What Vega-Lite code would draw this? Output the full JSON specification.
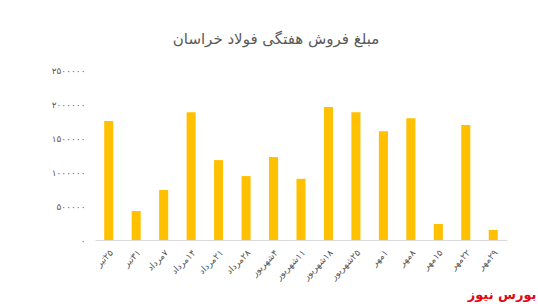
{
  "$schema": "https://vega.github.io/schema/vega-lite/v6.json",
  "width": 412,
  "height": 170,
  "autosize": {"type": "none"},
  "padding": {"left": 95, "top": 70, "right": 31, "bottom": 67},
  "background": "white",
  "title": {
    "text": "مبلغ فروش هفتگی فولاد خراسان",
    "fontSize": 15,
    "font": "DejaVu Sans",
    "fontWeight": "normal",
    "color": "#595959",
    "anchor": "middle",
    "dx": -25,
    "offset": 19
  },
  "data": {
    "values": [
      {"week": "‏۲۵تیر", "sales": 1750000},
      {"week": "‏۳۱تیر", "sales": 425000},
      {"week": "‏۷مرداد", "sales": 735000},
      {"week": "‏۱۴مرداد", "sales": 1880000},
      {"week": "‏۲۱مرداد", "sales": 1175000},
      {"week": "‏۲۸مرداد", "sales": 940000},
      {"week": "‏۴شهریور", "sales": 1220000},
      {"week": "‏۱۱شهریور", "sales": 900000},
      {"week": "‏۱۸شهریور", "sales": 1955000},
      {"week": "‏۲۵شهریور", "sales": 1880000},
      {"week": "‏۱مهر", "sales": 1600000},
      {"week": "‏۸مهر", "sales": 1790000},
      {"week": "‏۱۵مهر", "sales": 235000},
      {"week": "‏۲۲مهر", "sales": 1690000},
      {"week": "‏۲۹مهر", "sales": 147000}
    ]
  },
  "mark": {"type": "bar", "color": "#FFC000"},
  "encoding": {
    "x": {
      "field": "week",
      "type": "nominal",
      "sort": null,
      "scale": {"paddingInner": 0.67, "paddingOuter": 0.335},
      "axis": {
        "title": "بورس نیوز",
        "titleColor": "#E30613",
        "titleFontWeight": "bold",
        "titleFontSize": 13,
        "titleFont": "DejaVu Sans",
        "titleAnchor": "end",
        "titleAlign": "right",
        "titleBaseline": "top",
        "titleX": 441,
        "titleY": 48,
        "labelAngle": -45,
        "labelFontSize": 9,
        "labelFont": "DejaVu Sans",
        "labelColor": "#595959",
        "labelPadding": 8,
        "ticks": false,
        "domainColor": "#D9D9D9",
        "domainWidth": 1
      }
    },
    "y": {
      "field": "sales",
      "type": "quantitative",
      "scale": {"domain": [0, 2500000], "nice": false},
      "axis": {
        "title": null,
        "values": [0, 500000, 1000000, 1500000, 2000000, 2500000],
        "labelExpr": "replace(replace(replace(replace(format(datum.value,'d'),regexp('0','g'),'۰'),regexp('1','g'),'۱'),regexp('2','g'),'۲'),regexp('5','g'),'۵')",
        "labelFontSize": 9,
        "labelFont": "DejaVu Sans",
        "labelColor": "#595959",
        "labelPadding": 10,
        "ticks": false,
        "domain": false,
        "grid": false
      }
    }
  },
  "config": {"view": {"stroke": null}}
}
